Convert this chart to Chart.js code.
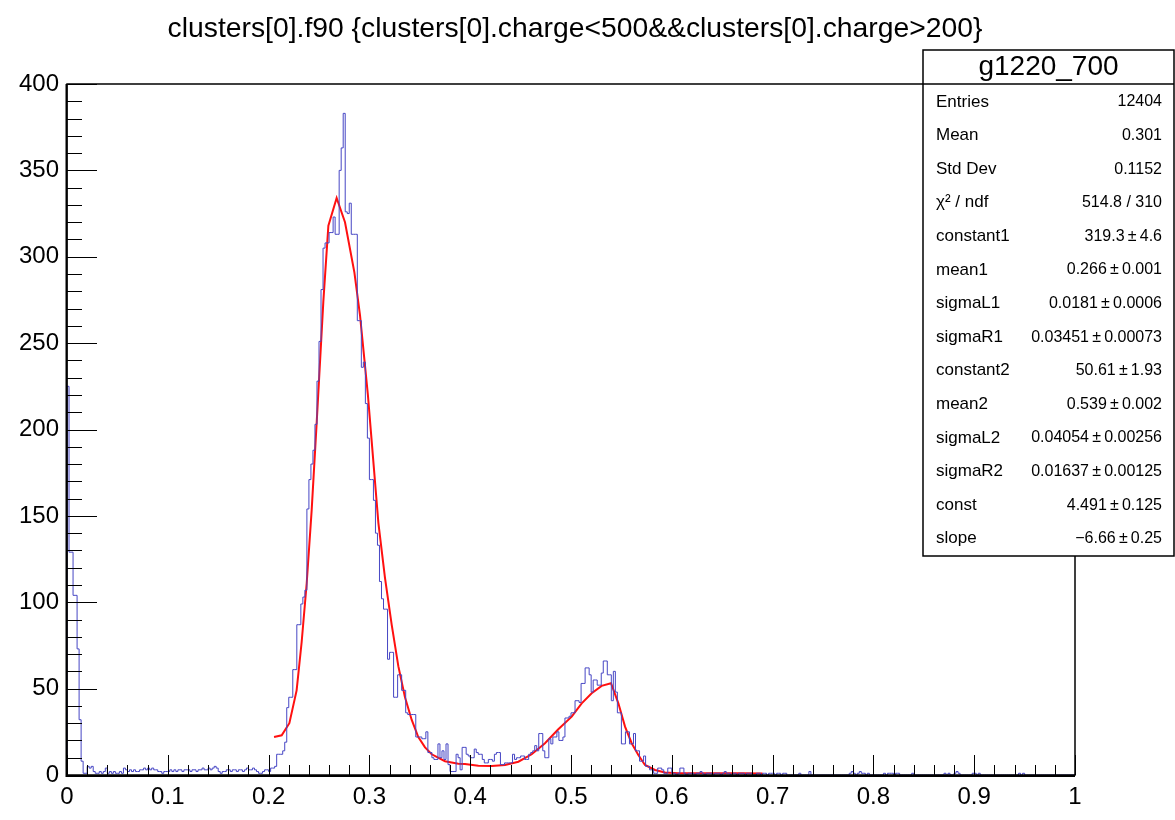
<!DOCTYPE html>
<html>
<head>
<meta charset="utf-8">
<script src="https://cdn.jsdelivr.net/npm/chart.js@4.4.1/dist/chart.umd.min.js"></script>
<style>
	body { margin: 0; background: #fff; }
	canvas { display: block; }
</style>
</head>
<body>
<canvas id="histoChart" width="1175" height="820"></canvas>
<script>
// histogram: 500 bins from 0 to 1
var xMin = 0;
var binWidth = 0.002;
var binCounts = [
	225,225,129,129,104,104,73,32,
	8,1,1,5,4,5,2,1,1,2,1,2,
	4,1,2,1,2,1,1,2,1,4,3,
	2,3,2,3,2,2,3,3,4,3,
	4,3,4,3,3,2,2,1,2,2,
	2,3,2,3,2,3,3,2,3,3,
	3,2,3,3,2,3,3,4,3,3,
	4,3,4,5,4,2,1,2,2,3,
	3,2,3,3,2,3,3,2,3,4,
	3,3,4,3,2,
	1,1,2,3,3,2,4,4,5,
	12,12,12,14,19,39,45,45,61,61,87,87,99,103,107,154,171,180,188,203,228,251,281,
	305,308,308,314,314,323,313,313,350,363,383,326,325,331,313,313,313,263,263,236,239,215,
	195,171,171,159,140,133,112,102,96,96,67,71,71,45,45,58,58,49,49,36,35,35,35,35,22,22,22,21,21,25,
	13,13,10,9,9,18,10,14,9,18,6,2,2,2,12,10,3,
	16,16,12,11,10,10,15,13,12,12,9,7,7,
	9,9,8,12,13,13,6,6,7,7,7,7,12,9,10,10,11,11,9,9,
	12,13,14,17,14,24,24,14,10,10,21,18,22,22,25,20,20,22,33,33,
	34,36,36,43,43,42,53,53,62,62,58,48,55,55,52,52,59,66,66,58,
	58,43,60,48,36,36,18,18,25,25,18,18,24,14,14,8,8,11,5,5,
	3,3,1,1,4,4,3,1,1,4,4,1,1,0,1,4,4,1,0,1,
	1,1,0,1,1,2,1,0,1,1,1,0,1,1,1,0,1,2,1,1,
	0,1,1,0,1,1,1,0,1,1,1,0,0,1,1,0,1,1,0,1,
	1,1,0,1,1,0,1,1,0,0,0,0,0,0,1,0,0,0,0,2,
	0,0,0,0,0,0,0,0,0,0,0,0,0,0,0,0,0,0,0,1,
	2,1,0,1,2,1,1,0,1,0,
	0,0,0,0,0,0,1,0,1,1,
	1,0,1,1,0,0,0,0,0,0,
	1,0,0,0,0,0,0,0,0,0,
	0,0,0,0,0,0,1,0,1,0,
	0,1,2,1,0,0,0,0,0,0,
	1,1,0,1,0,0,0,0,0,0,
	0,0,0,0,0,0,0,0,0,0,
	0,0,0,1,0,1,0,0,0,0,
	0,0,0,0,0,0,0,0,0,0,
	0,0,0,0,0,0,0,0,0,0
];

// fitted curve
var fitX = [0.2054,0.2130,0.2206,0.2278,0.2328,0.2378,0.2427,0.2478,0.2543,0.2593,0.2675,0.2758,0.2851,0.2907,
	0.2985,0.3089,0.3155,0.3221,0.3287,0.3353,0.3419,0.3485,0.3552,0.3618,0.3750,0.3882,0.3948,0.4081,0.4213,
	0.4345,0.4478,0.4610,0.4742,0.4874,0.5007,0.5106,0.5205,0.5304,0.5397,0.5470,0.5536,0.5602,0.5668,0.5734,
	0.5833,0.5933,0.6065,0.6263,0.6500,0.6700,0.6900];
var fitY = [22,23,30,49,77,111,153,205,274,318,334,320,291,266,
	220,146,114,87,63,45,32,22,16,12,8,6.5,6.4,5.4,5.2,
	5.8,7.7,12,18.4,26.5,33.8,41.5,47.3,51.6,53.1,41.5,28,18.4,11.6,5.8,
	2.9,1.4,1,1,1,1,0.8];

var xTickLabels = ['0','0.1','0.2','0.3','0.4','0.5','0.6','0.7','0.8','0.9','1'];
var yTickLabels = ['0','50','100','150','200','250','300','350','400'];

var titleText = 'clusters[0].f90 {clusters[0].charge<500&&clusters[0].charge>200}';
var statsTitle = 'g1220_700';
var statLabels = ['Entries','Mean','Std Dev','\u03C7\u00B2 / ndf','constant1','mean1','sigmaL1','sigmaR1',
	'constant2','mean2','sigmaL2','sigmaR2','const','slope'];
var statValues = ['12404','0.301','0.1152','514.8 / 310','319.3\u2009\u00B1\u20094.6','0.266\u2009\u00B1\u20090.001',
	'0.0181\u2009\u00B1\u20090.0006','0.03451\u2009\u00B1\u20090.00073','50.61\u2009\u00B1\u20091.93','0.539\u2009\u00B1\u20090.002',
	'0.04054\u2009\u00B1\u20090.00256','0.01637\u2009\u00B1\u20090.00125','4.491\u2009\u00B1\u20090.125','\u22126.66\u2009\u00B1\u20090.25'];

var FONT = '"Liberation Sans", Arial, Helvetica, sans-serif';

var _histPoints = function() {
	var pts = [{x: xMin, y: 0}];
	for (var i = 0; i < binCounts.length; i++) {
		pts.push({x: xMin + i * binWidth, y: binCounts[i]});
	}
	pts.push({x: xMin + binCounts.length * binWidth, y: binCounts[binCounts.length - 1]});
	return pts;
};

var rootFrame = {
	id: 'rootFrame',
	afterDatasetsDraw: function(chart) {
		var ctx = chart.ctx;
		var a = chart.chartArea;
		var xs = chart.scales.x, ys = chart.scales.y;
		ctx.save();
		ctx.strokeStyle = '#000';
		// inward ticks, like ROOT draws them
		ctx.lineWidth = 1;
		ctx.beginPath();
		for (var v = 0; v <= 400; v += 10) {
			var py = Math.round(ys.getPixelForValue(v)) + 0.5;
			var len = (v % 50 === 0) ? 30 : 15;
			ctx.moveTo(a.left, py);
			ctx.lineTo(a.left + len, py);
		}
		for (var k = 0; k <= 50; k++) {
			var px = Math.round(xs.getPixelForValue(k * 0.02)) + 0.5;
			var l2 = (k % 5 === 0) ? 20 : 10;
			ctx.moveTo(px, a.bottom);
			ctx.lineTo(px, a.bottom - l2);
		}
		ctx.stroke();
		// frame
		ctx.lineWidth = 1.5;
		ctx.strokeRect(a.left, a.top, a.right - a.left, a.bottom - a.top);
		ctx.lineWidth = 2;
		ctx.beginPath();
		ctx.moveTo(a.left - 0.5, a.top);
		ctx.lineTo(a.left - 0.5, a.bottom + 1);
		ctx.lineTo(a.right, a.bottom + 1);
		ctx.stroke();
		ctx.restore();
	},
	afterDraw: function(chart) {
		var ctx = chart.ctx;
		ctx.save();
		ctx.fillStyle = '#000';
		ctx.textBaseline = 'middle';
		ctx.textAlign = 'center';
		ctx.font = '28.3px ' + FONT;
		ctx.fillText(titleText, 575, 29);

		// stats box
		var bx = 923, by = 50, bw = 251, bh = 506;
		ctx.fillStyle = '#fff';
		ctx.fillRect(bx, by, bw, bh);
		ctx.strokeStyle = '#000';
		ctx.lineWidth = 1.5;
		ctx.strokeRect(bx, by, bw, bh);
		ctx.beginPath();
		ctx.moveTo(bx, 84);
		ctx.lineTo(bx + bw, 84);
		ctx.stroke();
		ctx.fillStyle = '#000';
		ctx.font = '28px ' + FONT;
		ctx.fillText(statsTitle, bx + bw / 2, 67);
		for (var i = 0; i < statLabels.length; i++) {
			var ry = 102 + i * 33.6;
			ctx.textAlign = 'left';
			ctx.font = '17px ' + FONT;
			ctx.fillText(statLabels[i], 936, ry);
			ctx.textAlign = 'right';
			ctx.font = '16px ' + FONT;
			ctx.fillText(statValues[i], 1162, ry);
		}
		ctx.restore();
	}
};

window.addEventListener('load', function() {
	var ctx = document.getElementById('histoChart');
	new Chart(ctx, {
		type: 'line',
		data: {
			datasets: [{
				label: 'f90',
				data: _histPoints(),
				stepped: 'after',
				borderColor: '#4646c4',
				borderWidth: 1,
				pointRadius: 0,
				fill: false
			}, {
				label: 'fit',
				data: fitX.map(function(x, i) { return {x: x, y: fitY[i]}; }),
				borderColor: '#ff1010',
				borderWidth: 2,
				pointRadius: 0,
				tension: 0,
				fill: false
			}]
		},
		options: {
			responsive: false,
			animation: false,
			layout: { padding: { top: 84, right: 100, left: 0, bottom: 0 } },
			plugins: {
				legend: { display: false },
				tooltip: { enabled: false },
				title: { display: false }
			},
			scales: {
				x: {
					type: 'linear',
					min: 0,
					max: 1,
					afterFit: function(scale) { scale.height = 45; },
					grid: { display: false, drawTicks: false },
					border: { display: false },
					ticks: {
						stepSize: 0.1,
						padding: 8,
						color: '#000',
						maxRotation: 0,
						autoSkip: false,
						font: { family: FONT, size: 24 },
						callback: function(v, i) { return xTickLabels[i]; }
					}
				},
				y: {
					min: 0,
					max: 400,
					afterFit: function(scale) { scale.width = 67; },
					grid: { display: false, drawTicks: false },
					border: { display: false },
					ticks: {
						stepSize: 50,
						padding: 8,
						color: '#000',
						font: { family: FONT, size: 24 },
						callback: function(v, i) { return yTickLabels[i]; }
					}
				}
			}
		},
		plugins: [rootFrame]
	});
});
</script>
</body>
</html>
